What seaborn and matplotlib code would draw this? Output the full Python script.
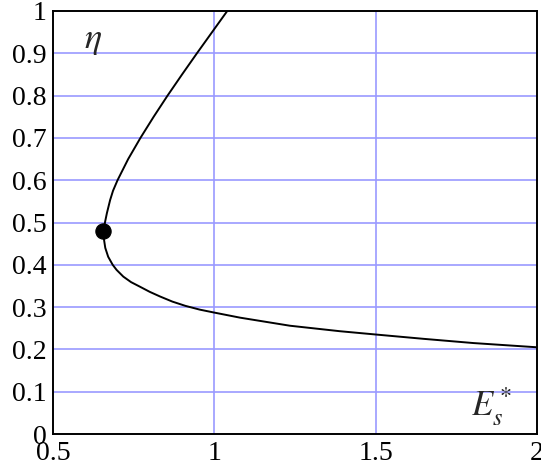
import matplotlib
matplotlib.use("Agg")
import matplotlib.pyplot as plt
import seaborn as sns
from matplotlib.ticker import MultipleLocator

# Curve E_s* vs eta (upper branch from top, through the turning point, lower branch)
es_star = [1.040, 0.993, 0.946, 0.900, 0.855, 0.812, 0.771, 0.733, 0.700, 0.686, 0.677, 0.667,
           0.661, 0.657, 0.658, 0.662, 0.671, 0.685, 0.697, 0.718, 0.742, 0.770, 0.800, 0.832,
           0.870, 0.910, 0.955, 1.000, 1.080, 1.234, 1.389, 1.503, 1.648, 1.803, 2.000]
eta = [1.000, 0.950, 0.900, 0.850, 0.800, 0.750, 0.700, 0.650, 0.600, 0.575, 0.553, 0.522,
       0.500, 0.480, 0.460, 0.440, 0.419, 0.400, 0.388, 0.372, 0.359, 0.348, 0.336, 0.325,
       0.313, 0.303, 0.294, 0.287, 0.275, 0.256, 0.243, 0.235, 0.225, 0.215, 0.205]

# Marked turning point
point_x = [0.656]
point_y = [0.479]

x_ticks = [0.5, 1, 1.5, 2]
x_tick_labels = ["0.5", "1", "1.5", "2"]
y_ticks = [0, 0.1, 0.2, 0.3, 0.4, 0.5, 0.6, 0.7, 0.8, 0.9, 1]
y_tick_labels = ["0", "0.1", "0.2", "0.3", "0.4", "0.5", "0.6", "0.7", "0.8", "0.9", "1"]

sns.set_style("white")
plt.rcParams["font.family"] = ["Liberation Serif", "DejaVu Serif"]
plt.rcParams["mathtext.fontset"] = "stix"

fig = plt.figure(figsize=(5.41, 4.74), dpi=100)
ax = fig.add_axes([53 / 541, 40 / 474, 484 / 541, 423 / 474])

ax.set_xlim(0.5, 2)
ax.set_ylim(0, 1)

# grid
for gx in x_ticks[1:-1]:
    ax.axvline(gx, color="#9a9aff", lw=1.2, zorder=1)
for gy in y_ticks[1:-1]:
    ax.axhline(gy, color="#9a9aff", lw=1.2, zorder=1)

sns.lineplot(x=es_star, y=eta, sort=False, estimator=None, color="black", lw=1.4, ax=ax,
             zorder=3, solid_joinstyle="round")
sns.scatterplot(x=point_x, y=point_y, color="black", s=120, edgecolor="black", ax=ax, zorder=4)

ax.set_xticks(x_ticks)
ax.set_xticklabels(x_tick_labels)
ax.set_yticks(y_ticks)
ax.set_yticklabels(y_tick_labels)
ax.xaxis.set_minor_locator(MultipleLocator(0.1))
ax.yaxis.set_minor_locator(MultipleLocator(0.02))
ax.tick_params(axis="both", which="major", direction="out", length=3, width=1.2,
               labelsize=20, pad=1.5, color="black", labelcolor="black")
ax.tick_params(axis="both", which="minor", direction="out", length=2.5, width=1.2, color="black")
ax.tick_params(axis="x", which="major", pad=2)

for s in ax.spines.values():
    s.set_visible(True)
    s.set_color("black")
    s.set_linewidth(1.4)

ax.set_xlabel("")
ax.set_ylabel("")

ax.text(0.083, 0.93, r"$\eta$", transform=ax.transAxes, fontsize=26, ha="center", va="center")
ax.text(0.907, 0.064, r"$E_s^*$", transform=ax.transAxes, fontsize=25, ha="center", va="center")

fig.savefig("out.png", dpi=100)
